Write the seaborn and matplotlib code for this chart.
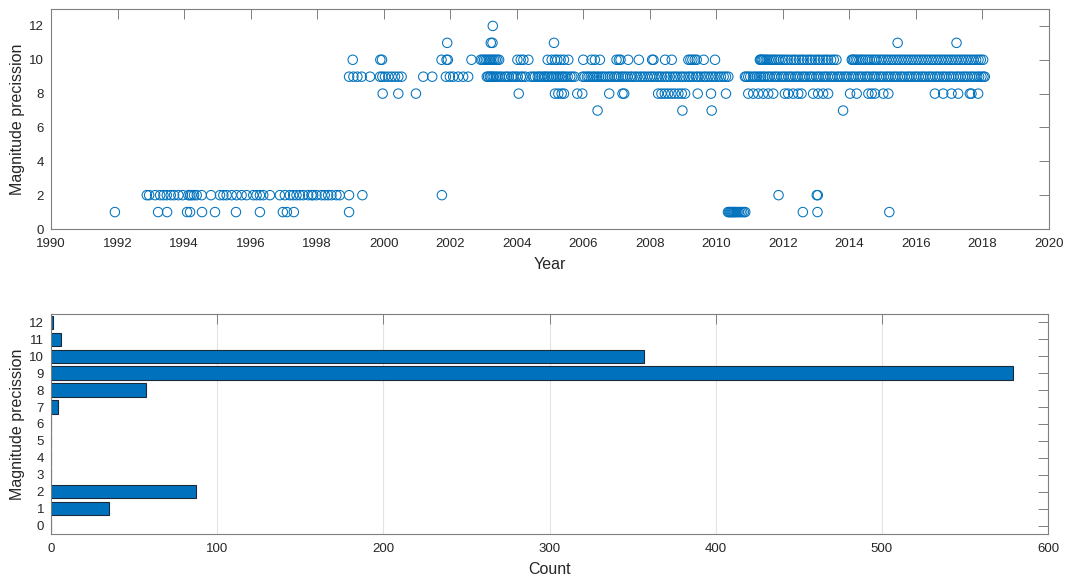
import numpy as np
import pandas as pd
import matplotlib
matplotlib.use("Agg")
import matplotlib.pyplot as plt
import seaborn as sns

# Event dates (decimal year) grouped by magnitude precision level
years_p1 = [1991.92, 1993.22, 1993.49, 1994.09, 1994.18, 1994.54, 1994.93, 1995.56,
            1996.28, 1996.97, 1997.09, 1997.30, 1998.96,
            2010.35, 2010.38, 2010.41, 2010.44, 2010.47, 2010.50, 2010.53, 2010.56,
            2010.60, 2010.64, 2010.68, 2010.73, 2010.78, 2010.83, 2010.87,
            2012.60, 2013.04, 2015.20]

years_p2 = [1992.88, 1992.95, 1993.13, 1993.28, 1993.38, 1993.48, 1993.60, 1993.70,
            1993.83, 1993.96, 1994.13, 1994.18, 1994.23, 1994.30, 1994.38, 1994.53,
            1994.81, 1995.08, 1995.18, 1995.28, 1995.43, 1995.58, 1995.73, 1995.88,
            1996.08, 1996.18, 1996.28, 1996.38, 1996.58, 1996.88, 1997.03, 1997.18,
            1997.28, 1997.38, 1997.48, 1997.58, 1997.73, 1997.83, 1997.88, 1997.98,
            1998.13, 1998.23, 1998.33, 1998.43, 1998.58, 1998.68, 1998.96, 1999.36,
            2001.75, 2011.87, 2013.02, 2013.05]

years_p7 = [2006.43, 2008.98, 2009.86, 2013.81]

years_p8 = [1999.97, 2000.44, 2000.97, 2004.06, 2005.15, 2005.25, 2005.35, 2005.42,
            2005.82, 2005.97, 2006.78, 2007.18, 2007.23, 2008.25, 2008.35, 2008.45,
            2008.55, 2008.65, 2008.75, 2008.86, 2008.96, 2009.06, 2009.44, 2009.84,
            2010.29, 2010.96, 2011.11, 2011.26, 2011.41, 2011.56, 2011.71, 2012.06,
            2012.16, 2012.31, 2012.46, 2012.56, 2012.91, 2013.06, 2013.21, 2013.36,
            2014.02, 2014.22, 2014.57, 2014.67, 2014.77, 2015.02, 2015.17, 2016.57,
            2016.82, 2017.07, 2017.27, 2017.62, 2017.67, 2017.87]

years_p9 = [1998.96, 1999.09, 1999.21, 1999.34, 1999.59, 1999.89, 1999.96, 2000.04,
            2000.14, 2000.24, 2000.34, 2000.44, 2000.54, 2001.19, 2001.46, 2001.87,
            2001.99, 2002.09, 2002.24, 2002.39, 2002.54,
            2003.10, 2003.14, 2003.19, 2003.22, 2003.27, 2003.31, 2003.37, 2003.42,
            2003.49, 2003.55, 2003.64, 2003.70, 2003.76, 2003.85, 2003.90, 2003.97,
            2004.03, 2004.12, 2004.18, 2004.26, 2004.41, 2004.49, 2004.55, 2004.63,
            2004.68, 2004.74, 2004.81, 2004.85, 2004.91, 2004.96, 2005.03, 2005.07,
            2005.13, 2005.19, 2005.24, 2005.29, 2005.36, 2005.40, 2005.46, 2005.53,
            2005.61, 2005.67, 2005.74, 2005.98, 2006.04, 2006.11, 2006.16, 2006.22,
            2006.29, 2006.34, 2006.41, 2006.47, 2006.54, 2006.60, 2006.66, 2006.74,
            2006.80, 2006.86, 2006.94, 2007.00, 2007.06, 2007.14, 2007.20, 2007.26,
            2007.33, 2007.41, 2007.47, 2007.55, 2007.62, 2007.71, 2007.78, 2007.85,
            2007.93, 2008.01, 2008.07, 2008.14, 2008.22, 2008.29, 2008.36, 2008.45,
            2008.52, 2008.60, 2008.69, 2008.76, 2008.83, 2008.92, 2008.99, 2009.07,
            2009.16, 2009.22, 2009.30, 2009.39, 2009.45, 2009.53, 2009.62, 2009.68,
            2009.76, 2009.84, 2009.91, 2009.98, 2010.07, 2010.14, 2010.22, 2010.29,
            2010.36,
            2010.86, 2010.90, 2010.96, 2011.02, 2011.10, 2011.16, 2011.22, 2011.29,
            2011.34, 2011.41, 2011.46, 2011.54, 2011.60, 2011.67, 2011.75, 2011.81,
            2011.88, 2011.96, 2012.02, 2012.09, 2012.17, 2012.23, 2012.30, 2012.38,
            2012.44, 2012.51, 2012.59, 2012.65, 2012.72, 2012.80, 2012.86, 2012.93,
            2013.01, 2013.07, 2013.14, 2013.22, 2013.28, 2013.35, 2013.43, 2013.49,
            2013.56, 2013.64, 2013.70, 2013.77, 2013.85, 2013.91, 2013.98, 2014.06,
            2014.12, 2014.19, 2014.27, 2014.33, 2014.40, 2014.48, 2014.54, 2014.61,
            2014.69, 2014.75, 2014.82, 2014.90, 2014.96, 2015.03, 2015.11, 2015.17,
            2015.24, 2015.32, 2015.38, 2015.45, 2015.53, 2015.59, 2015.66, 2015.74,
            2015.80, 2015.87, 2015.95, 2016.01, 2016.08, 2016.16, 2016.22, 2016.29,
            2016.37, 2016.43, 2016.50, 2016.58, 2016.64, 2016.71, 2016.79, 2016.85,
            2016.92, 2017.00, 2017.06, 2017.13, 2017.21, 2017.27, 2017.34, 2017.42,
            2017.48, 2017.55, 2017.63, 2017.69, 2017.76, 2017.84, 2017.90, 2017.97,
            2018.03, 2018.07]

years_p10 = [1999.07, 1999.90, 1999.95, 2001.74, 2001.89, 2001.93, 2002.64,
             2002.92, 2002.97, 2003.02, 2003.07, 2003.12, 2003.17, 2003.22, 2003.27,
             2003.32, 2003.37, 2003.42, 2003.47,
             2004.02, 2004.12, 2004.20, 2004.35, 2004.93, 2005.05, 2005.15, 2005.22,
             2005.32, 2005.42, 2005.55, 2006.00, 2006.25, 2006.35, 2006.50, 2007.00,
             2007.07, 2007.12, 2007.35, 2007.67, 2008.07, 2008.11, 2008.46, 2008.66,
             2009.16, 2009.22, 2009.28, 2009.35, 2009.41, 2009.62, 2009.96,
             2011.31, 2011.33, 2011.36, 2011.39, 2011.43, 2011.48, 2011.52, 2011.57,
             2011.63, 2011.68, 2011.74, 2011.80, 2011.87, 2011.93, 2012.01, 2012.08,
             2012.16, 2012.25, 2012.33, 2012.40, 2012.49, 2012.57, 2012.64, 2012.73,
             2012.81, 2012.88, 2012.97, 2013.05, 2013.12, 2013.21, 2013.29, 2013.36,
             2013.45, 2013.53, 2013.61,
             2014.07, 2014.10, 2014.14, 2014.19, 2014.24, 2014.30, 2014.36, 2014.41,
             2014.48, 2014.55, 2014.61, 2014.68, 2014.75, 2014.81, 2014.89, 2014.96,
             2015.03, 2015.11, 2015.18, 2015.26, 2015.33, 2015.41, 2015.48, 2015.56,
             2015.63, 2015.71, 2015.78, 2015.86, 2015.93, 2016.01, 2016.08, 2016.16,
             2016.23, 2016.31, 2016.38, 2016.46, 2016.53, 2016.61, 2016.68, 2016.76,
             2016.83, 2016.91, 2016.98, 2017.06, 2017.13, 2017.21, 2017.28, 2017.36,
             2017.43, 2017.51, 2017.58, 2017.66, 2017.73, 2017.81, 2017.88, 2017.95,
             2018.02]

years_p11 = [2001.91, 2003.22, 2003.27, 2005.12, 2015.45, 2017.22]

years_p12 = [2003.28]

# Histogram of precision levels (total count per level)
precision_levels = [0, 1, 2, 3, 4, 5, 6, 7, 8, 9, 10, 11, 12]
level_counts = [0, 35, 87, 0, 0, 0, 0, 4, 57, 579, 357, 6, 1]

groups = {1: years_p1, 2: years_p2, 7: years_p7, 8: years_p8, 9: years_p9,
          10: years_p10, 11: years_p11, 12: years_p12}
events = pd.DataFrame(
    [(yr, lvl) for lvl, yrs in groups.items() for yr in yrs],
    columns=["year", "precision"],
)
hist = pd.DataFrame({"precision": precision_levels, "count": level_counts})

BLUE = "#0072BD"
AXIS_GRAY = "#7f7f7f"
TEXT = "#262626"

sns.set_theme(style="white")
plt.rcParams["font.family"] = ["Liberation Sans", "DejaVu Sans"]
plt.rcParams.update({
    "xtick.direction": "in",
    "ytick.direction": "in",
    "xtick.top": True,
    "ytick.right": True,
    "xtick.major.size": 7,
    "ytick.major.size": 7,
    "xtick.major.width": 0.7,
    "ytick.major.width": 0.7,
    "xtick.major.pad": 6.5,
    "ytick.major.pad": 5,
    "xtick.color": AXIS_GRAY,
    "ytick.color": AXIS_GRAY,
    "xtick.labelcolor": TEXT,
    "ytick.labelcolor": TEXT,
    "xtick.labelsize": 9.5,
    "ytick.labelsize": 9.5,
    "axes.edgecolor": AXIS_GRAY,
    "axes.linewidth": 0.8,
    "axes.labelcolor": TEXT,
    "axes.labelsize": 11.5,
})

W, H = 1067, 580
fig = plt.figure(figsize=(W / 100, H / 100), dpi=100)
ax1 = fig.add_axes([51 / W, 1 - 229 / H, 998 / W, 220 / H])
ax2 = fig.add_axes([51 / W, 1 - 534 / H, 997 / W, 220 / H])

# Top: precision of each event over time
sns.scatterplot(data=events, x="year", y="precision", ax=ax1, marker="o",
                s=46, linewidth=0.75, legend=False)
pts = ax1.collections[0]
pts.set_facecolor("none")
pts.set_edgecolor(BLUE)

ax1.set_xlim(1990, 2020)
ax1.set_ylim(0, 13)
ax1.set_xticks(np.arange(1990, 2021, 2))
ax1.set_yticks(np.arange(0, 13, 2))
ax1.set_xlabel("Year", labelpad=5)
ax1.set_ylabel("Magnitude precission", labelpad=3)
for s in ax1.spines.values():
    s.set_visible(True)

# Bottom: how many events fall on each precision level
sns.barplot(data=hist, x="count", y="precision", orient="y", native_scale=True,
            width=0.8, color=BLUE, saturation=1, edgecolor="#1b2a3a",
            linewidth=0.8, ax=ax2)
ax2.set_xlim(0, 600)
ax2.set_ylim(-0.5, 12.5)
ax2.set_xticks(np.arange(0, 601, 100))
ax2.set_yticks(np.arange(0, 13, 1))
ax2.xaxis.grid(True, color="#e3e3e3", linewidth=0.8)
ax2.yaxis.grid(False)
ax2.set_axisbelow(True)
ax2.set_xlabel("Count", labelpad=5)
ax2.set_ylabel("Magnitude precission", labelpad=3)
for s in ax2.spines.values():
    s.set_visible(True)

fig.savefig("out.png", dpi=100)
